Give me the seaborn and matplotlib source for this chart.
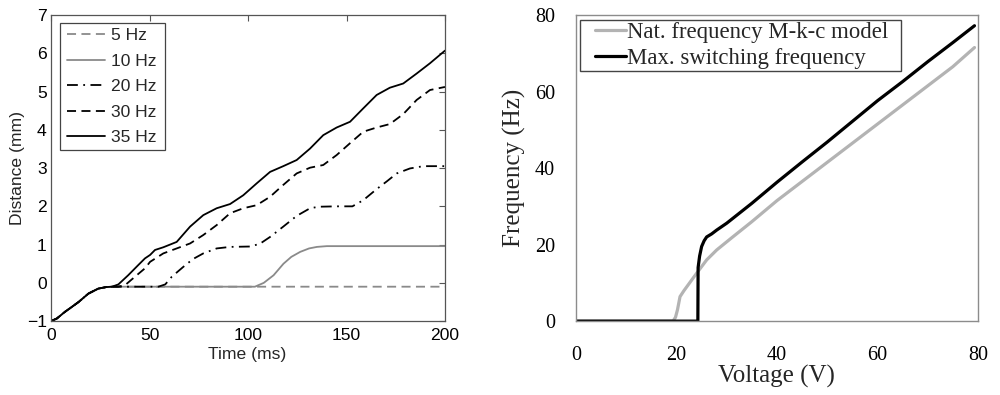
import matplotlib
matplotlib.use("Agg")
import matplotlib.pyplot as plt
from matplotlib.legend_handler import HandlerLine2D
import seaborn as sns
import pandas as pd

# ---------------- Left panel data: Distance vs time ----------------
common_t = [0, 3, 7, 10, 14, 19, 24, 28, 31]
common_v = [-1.0, -0.93, -0.76, -0.65, -0.5, -0.28, -0.15, -0.11, -0.1]

t_5 = common_t + [60, 120, 200]
d_5 = common_v + [-0.1, -0.1, -0.1]

t_10 = common_t + [60, 103.5, 108, 113, 118, 122, 126.5, 131, 135, 140, 170, 200]
d_10 = common_v + [-0.1, -0.1, 0.0, 0.2, 0.5, 0.68, 0.81, 0.9, 0.94, 0.96, 0.96, 0.96]

t_20 = common_t + [45, 54.5, 58, 61.3, 67.2, 72, 77.3, 84.1, 90.9, 101, 106, 111.2,
                   117.9, 124.7, 131.5, 136, 145, 153, 158.5, 165.3, 170.4, 175.5,
                   182.2, 189, 195.7, 200]
d_20 = common_v + [-0.1, -0.1, -0.04, 0.16, 0.42, 0.62, 0.77, 0.9, 0.94, 0.95, 1.02, 1.2,
                   1.47, 1.75, 1.95, 1.99, 2.0, 2.0, 2.16, 2.45, 2.65, 2.86,
                   2.99, 3.05, 3.05, 3.05]

t_30 = common_t + [34, 37.6, 42.6, 47.7, 50.3, 57, 63.8, 70.6, 77.3, 84.1, 90.9, 97.6,
                   104.4, 111.2, 117.9, 124.7, 131.5, 138.2, 145, 151.8, 158.5, 165.3,
                   172, 178.8, 185.6, 192.4, 200]
d_30 = common_v + [-0.1, -0.06, 0.16, 0.38, 0.55, 0.77, 0.9, 1.03, 1.25, 1.51, 1.82, 1.95,
                   2.03, 2.25, 2.56, 2.86, 3.01, 3.08, 3.34, 3.65, 3.95, 4.06,
                   4.15, 4.41, 4.78, 5.04, 5.12]

t_35 = common_t + [34.2, 39.2, 44, 47.7, 50.3, 52.8, 57, 63.8, 70.6, 77.3, 84.1, 90.9,
                   97.6, 104.4, 111.2, 117.9, 124.7, 131.5, 138.2, 145, 151.8, 158.5,
                   165.3, 172, 178.8, 185.6, 192.4, 200]
d_35 = common_v + [-0.04, 0.2, 0.45, 0.64, 0.73, 0.86, 0.93, 1.07, 1.47, 1.77, 1.95, 2.06,
                   2.29, 2.6, 2.9, 3.05, 3.21, 3.51, 3.86, 4.06, 4.21, 4.56,
                   4.91, 5.1, 5.21, 5.47, 5.74, 6.07]

left_labels = ["5 Hz", "10 Hz", "20 Hz", "30 Hz", "35 Hz"]
left_xticks = [0, 50, 100, 150, 200]
left_yticks = [-1, 0, 1, 2, 3, 4, 5, 6, 7]

# ---------------- Right panel data: Frequency vs voltage ----------------
v_nat = [0, 19.3, 19.8, 20.2, 20.7, 21.5, 22.5, 24, 26, 28, 31, 35, 40, 45, 50,
         55, 60, 65, 70, 75, 79.3]
f_nat = [0, 0, 1, 3, 6.4, 8, 9.8, 12.5, 16, 18.6, 21.8, 26, 31.5, 36.5, 41.5,
         46.5, 51.5, 56.5, 61.5, 66.5, 71.5]

v_max = [0, 24.25, 24.3, 24.6, 25, 25.5, 26, 27, 28, 30, 35, 40, 45, 50, 55,
         60, 65, 70, 75, 79.3]
f_max = [0, 0, 14, 17, 19.5, 21, 22, 22.8, 23.8, 25.6, 30.8, 36.3, 41.6, 46.8, 52.2,
         57.6, 62.6, 67.8, 72.8, 77.2]

right_labels = ["Nat. frequency M-k-c model", "Max. switching frequency"]
right_ticks = [0, 20, 40, 60, 80]

# ---------------- Figure ----------------
sns.set_style("white")
plt.rcParams["font.family"] = ["Liberation Sans", "DejaVu Sans"]

fig = plt.figure(figsize=(10, 3.95), dpi=100)
axL = fig.add_axes([0.051, 0.187, 0.394, 0.775])
axR = fig.add_axes([0.576, 0.187, 0.402, 0.775])

# ---- Left panel
FS_L = 12.6
styles = [
    dict(color="#8a8a8a", linestyle=(0, (5, 3))),
    dict(color="#8a8a8a", linestyle="-"),
    dict(color="black", linestyle=(0, (6, 3, 1, 3))),
    dict(color="black", linestyle=(0, (5, 3))),
    dict(color="black", linestyle="-"),
]
series = [(t_5, d_5), (t_10, d_10), (t_20, d_20), (t_30, d_30), (t_35, d_35)]
for (tt, dd), lab, st in zip(series, left_labels, styles):
    df = pd.DataFrame({"t": tt, "d": dd})
    sns.lineplot(data=df, x="t", y="d", ax=axL, label=lab, linewidth=1.3,
                 estimator=None, sort=False, **st)

axL.set_xlim(0, 200)
axL.set_ylim(-1, 7)
axL.set_xticks(left_xticks)
axL.set_yticks(left_yticks)
axL.tick_params(direction="in", top=True, right=True, length=4, width=0.8,
                color="#555555", labelsize=FS_L, labelcolor="black")
axL.tick_params(axis="x", pad=5)
axL.tick_params(axis="y", pad=3)
for s in axL.spines.values():
    s.set_color("#555555")
    s.set_linewidth(0.9)
axL.set_xlabel("Time (ms)", fontsize=FS_L)
axL.set_ylabel("Distance (mm)", fontsize=FS_L)
axL.xaxis.set_label_coords(0.497, -0.084)
axL.yaxis.set_label_coords(-0.065, 0.5)
handles, labels = axL.get_legend_handles_labels()
legL = axL.legend(handles, labels, loc="upper left",
                  bbox_to_anchor=(0.023, 0.0, 0.2665, 0.974), mode="expand",
                  borderaxespad=0, fontsize=FS_L, handlelength=2.28,
                  handletextpad=0.33, fancybox=False, framealpha=1,
                  edgecolor="#444444", borderpad=0.3, labelspacing=0.58,
                  handler_map={h: HandlerLine2D(xpad=0.1) for h in handles})
legL.get_frame().set_linewidth(0.9)

# ---- Right panel
serif = ["Liberation Serif", "DejaVu Serif"]
dfn = pd.DataFrame({"v": v_nat, "f": f_nat})
dfm = pd.DataFrame({"v": v_max, "f": f_max})
sns.lineplot(data=dfn, x="v", y="f", ax=axR, color="#b3b3b3", linewidth=2.3,
             label=right_labels[0], estimator=None, sort=False)
sns.lineplot(data=dfm, x="v", y="f", ax=axR, color="black", linewidth=2.3,
             label=right_labels[1], estimator=None, sort=False)
axR.set_xlim(0, 80)
axR.set_ylim(0, 80)
axR.set_xticks(right_ticks)
axR.set_yticks(right_ticks)
axR.tick_params(direction="out", length=5, width=0.9, color="#8c8c8c",
                labelcolor="black", labelsize=14.5)
axR.tick_params(axis="x", pad=13)
axR.tick_params(axis="y", pad=10)
for lab in axR.get_xticklabels() + axR.get_yticklabels():
    lab.set_family(serif)
for s in axR.spines.values():
    s.set_color("#8c8c8c")
    s.set_linewidth(1.0)
axR.set_xlabel("Voltage (V)", fontsize=18, family=serif)
axR.set_ylabel("Frequency (Hz)", fontsize=18, family=serif)
axR.xaxis.set_label_coords(0.499, -0.142)
axR.yaxis.set_label_coords(-0.124, 0.5)
handlesR, labelsR = axR.get_legend_handles_labels()
legR = axR.legend(handlesR, labelsR, loc="upper left",
                  bbox_to_anchor=(0.01, 0.0, 0.7985, 0.984), mode="expand",
                  borderaxespad=0, prop={"family": serif, "size": 16.4},
                  handlelength=1.92, handletextpad=0.05, fancybox=False,
                  framealpha=1, edgecolor="#444444", borderpad=0.1,
                  labelspacing=0.2,
                  handler_map={h: HandlerLine2D(xpad=0.56) for h in handlesR})
legR.get_frame().set_linewidth(1.0)

fig.savefig("out.png", dpi=100)
